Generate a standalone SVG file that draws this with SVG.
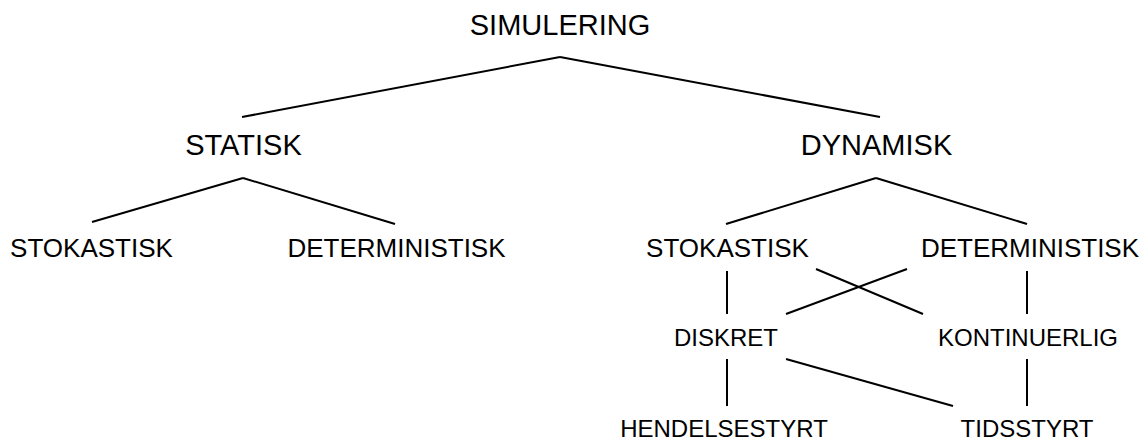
<svg xmlns="http://www.w3.org/2000/svg" width="1144" height="441" viewBox="0 0 1144 441">
<style>
text{font-family:"Liberation Sans",Arial,sans-serif;fill:#000;text-anchor:middle}
.l1{font-size:29px}
.l3{font-size:26px}
.l4{font-size:24px}
#connectors line{stroke:#000;stroke-width:2;stroke-linecap:butt}
</style>
<rect width="1144" height="441" fill="#fff"/>
<g id="connectors">
<line x1="560" y1="57" x2="242" y2="117"/>
<line x1="560" y1="57" x2="880" y2="117"/>
<line x1="243" y1="178" x2="92" y2="222"/>
<line x1="243" y1="178" x2="395" y2="224"/>
<line x1="876" y1="178" x2="726" y2="224"/>
<line x1="876" y1="178" x2="1027" y2="224"/>
<line x1="727" y1="271" x2="727" y2="314"/>
<line x1="1027" y1="271" x2="1027" y2="314"/>
<line x1="816" y1="269" x2="923" y2="314"/>
<line x1="907" y1="269" x2="786" y2="314"/>
<line x1="727" y1="359" x2="727" y2="406"/>
<line x1="786" y1="359" x2="953" y2="406"/>
<line x1="1027" y1="359" x2="1027" y2="406"/>
</g>
<g id="simulering"><text class="l1" x="560" y="35">SIMULERING</text></g>
<g id="statisk"><text class="l1" x="243.5" y="155">STATISK</text></g>
<g id="dynamisk"><text class="l1" x="876.5" y="155">DYNAMISK</text></g>
<g id="statisk-stokastisk"><text class="l3" x="91.5" y="257">STOKASTISK</text></g>
<g id="statisk-deterministisk"><text class="l3" x="396.5" y="257">DETERMINISTISK</text></g>
<g id="dynamisk-stokastisk"><text class="l3" x="727.5" y="257">STOKASTISK</text></g>
<g id="dynamisk-deterministisk"><text class="l3" x="1030" y="257">DETERMINISTISK</text></g>
<g id="diskret"><text class="l4" x="726" y="346">DISKRET</text></g>
<g id="kontinuerlig"><text class="l4" x="1028" y="346">KONTINUERLIG</text></g>
<g id="hendelsestyrt"><text class="l4" x="724" y="437">HENDELSESTYRT</text></g>
<g id="tidsstyrt"><text class="l4" x="1027" y="437">TIDSSTYRT</text></g>
</svg>
